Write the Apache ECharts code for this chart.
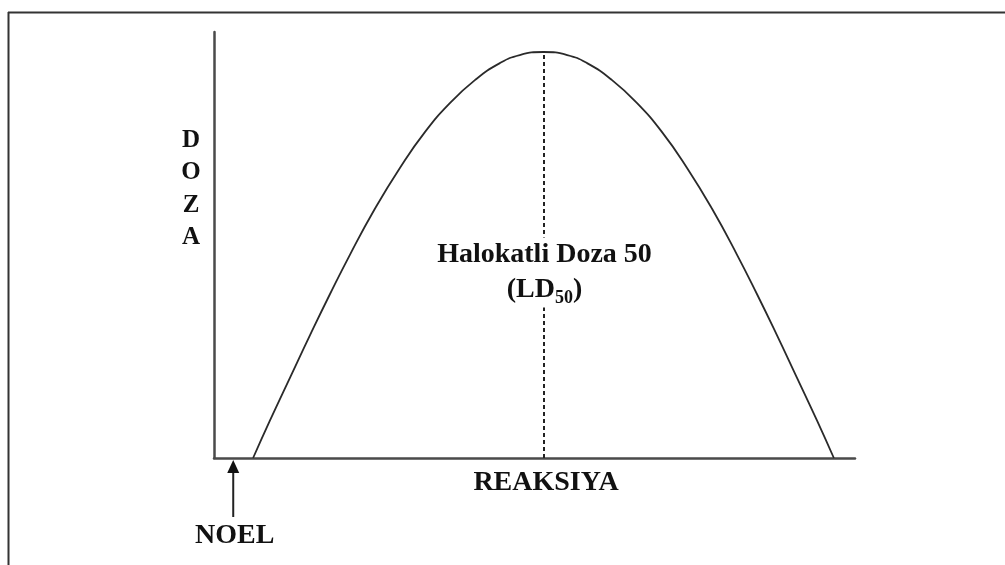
<!DOCTYPE html>
<html>
<head>
<meta charset="utf-8">
<script src="https://cdn.jsdelivr.net/npm/echarts@6/dist/echarts.min.js"></script>
<style>
html,body{margin:0;padding:0;background:#fff;}
#main{width:1005px;height:565px;}
</style>
</head>
<body>
<div id="main"></div>
<script>
// egri chiziq nuqtalari (reaksiya, doza) - rasmdan o'qilgan
var reaksiya = [6.1, 8.7, 11.9, 15.0, 18.1, 21.2, 25.1, 29.0, 32.9, 36.8, 40.7, 44.6, 47.7, 51.4,
	55.1, 58.2, 62.1, 66.0, 69.9, 73.8, 77.7, 81.6, 84.7, 87.8, 90.9, 94.1, 96.7];
var doza = [0, 8.7, 19.0, 28.9, 38.5, 47.7, 58.5, 68.1, 76.5, 83.3, 88.7, 92.7, 94.6, 95.3,
	94.6, 92.7, 88.7, 83.3, 76.5, 68.1, 58.5, 47.7, 38.5, 28.9, 19.0, 8.7, 0];
var ld50 = 51.4;     // cho'qqi joyi
var ld50Max = 95.3;
var noel = 3.0;      // NOEL strelkasi ko'rsatgan nuqta

var points = [];
for (var i = 0; i < reaksiya.length; i++) {
	points.push([reaksiya[i], doza[i]]);
}

var serif = '"Liberation Serif","DejaVu Serif",serif';
var chart = echarts.init(document.getElementById('main'));

var option = {
	backgroundColor: '#fff',
	animation: false,
	grid: { left: 214, right: 150, top: 32, bottom: 107 },
	xAxis: {
		type: 'value', min: 0, max: 100,
		axisLine: { show: true, lineStyle: { color: '#4a4a4a', width: 2.5 } },
		axisTick: { show: false }, axisLabel: { show: false }, splitLine: { show: false }
	},
	yAxis: {
		type: 'value', min: 0, max: 100,
		axisLine: { show: true, lineStyle: { color: '#4a4a4a', width: 2.5 } },
		axisTick: { show: false }, axisLabel: { show: false }, splitLine: { show: false }
	},
	series: [{
		type: 'line',
		data: points,
		smooth: true,
		showSymbol: false,
		lineStyle: { color: '#2a2a2a', width: 1.8 },
		markLine: {
			silent: true,
			symbol: ['none', 'none'],
			label: { show: false },
			lineStyle: { color: '#222', width: 2, type: [4, 3] },
			data: [[{ coord: [ld50, 0] }, { coord: [ld50, ld50Max] }]]
		}
	}]
};
chart.setOption(option);

var peak = chart.convertToPixel({ gridIndex: 0 }, [ld50, 0]);
var noelPx = chart.convertToPixel({ gridIndex: 0 }, [noel, 0]);

chart.setOption({
	graphic: [
		// ramka
		{ type: 'line', shape: { x1: 8, y1: 12.5, x2: 1005, y2: 12.5 }, style: { stroke: '#333', lineWidth: 2 } },
		{ type: 'line', shape: { x1: 8.5, y1: 12, x2: 8.5, y2: 565 }, style: { stroke: '#333', lineWidth: 2 } },
		// DOZA
		{ type: 'text', x: 191, y: 189, style: {
			text: 'D\nO\nZ\nA', font: 'bold 25px ' + serif, fill: '#111',
			align: 'center', verticalAlign: 'middle', lineHeight: 32.5 } },
		// REAKSIYA
		{ type: 'text', x: 546, y: 483, style: {
			text: 'REAKSIYA', font: 'bold 28px ' + serif, fill: '#111',
			align: 'center', verticalAlign: 'middle' } },
		// Halokatli Doza 50 (LD50)
		{ type: 'text', x: peak[0] + 1, y: 272.5, z: 10, style: {
			text: 'Halokatli Doza 50\n(LD{s|50})', font: 'bold 28px ' + serif, fill: '#111',
			align: 'center', verticalAlign: 'middle', lineHeight: 35,
			backgroundColor: '#fff',
			rich: { s: { font: 'bold 18px ' + serif, fill: '#111', verticalAlign: 'bottom', lineHeight: 35 } } } },
		// NOEL strelkasi
		{ type: 'line', shape: { x1: noelPx[0], y1: 517, x2: noelPx[0], y2: 470 }, style: { stroke: '#222', lineWidth: 2 } },
		{ type: 'polygon', shape: { points: [[noelPx[0], 460], [noelPx[0] - 6, 473], [noelPx[0] + 6, 473]] }, style: { fill: '#111' } },
		{ type: 'text', x: noelPx[0] + 1.5, y: 536, style: {
			text: 'NOEL', font: 'bold 28px ' + serif, fill: '#111',
			align: 'center', verticalAlign: 'middle' } }
	]
});
</script>
</body>
</html>
